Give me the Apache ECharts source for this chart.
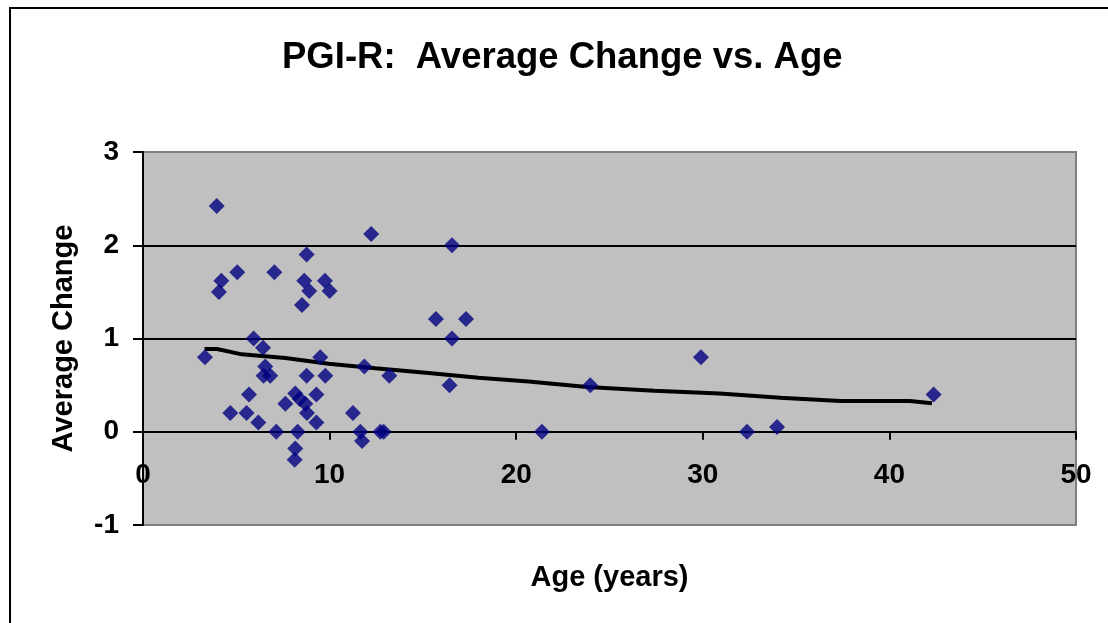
<!DOCTYPE html>
<html>
<head>
<meta charset="utf-8">
<script src="https://cdn.jsdelivr.net/npm/echarts@6/dist/echarts.min.js"></script>
<style>
html,body{margin:0;padding:0;background:#fff;}
#chart{width:1108px;height:623px;}
</style>
</head>
<body>
<div id="chart"></div>
<script>
var ages = [3.32, 3.95, 4.07, 4.2, 4.68, 5.05, 5.55, 5.68, 5.93, 6.18, 6.43, 6.55, 6.46, 6.82, 7.04, 7.14, 7.63, 8.16, 8.4, 8.29, 8.16, 8.13, 8.52, 8.64, 8.77, 8.91, 8.7, 8.79, 8.77, 9.29, 9.29, 9.5, 9.75, 10.0, 9.77, 11.25, 11.65, 11.74, 11.86, 12.23, 12.72, 12.9, 13.2, 15.7, 16.43, 16.56, 16.56, 17.31, 21.38, 23.97, 29.9, 32.37, 33.98, 42.37];
var changes = [0.80, 2.42, 1.50, 1.62, 0.20, 1.71, 0.20, 0.40, 1.00, 0.10, 0.90, 0.70, 0.60, 0.60, 1.71, 0.00, 0.30, 0.41, 0.35, 0.00, -0.18, -0.30, 1.36, 1.62, 1.90, 1.51, 0.30, 0.20, 0.60, 0.40, 0.10, 0.80, 1.62, 1.51, 0.60, 0.20, 0.00, -0.10, 0.70, 2.12, 0.00, 0.00, 0.60, 1.21, 0.50, 1.00, 2.00, 1.21, 0.00, 0.50, 0.80, 0.00, 0.05, 0.40];
var trendAges = [3.3, 3.97, 5.3, 7.63, 9.95, 12.45, 15.3, 17.98, 20.66, 23.8, 27.4, 30.9, 34.15, 37.37, 41.1, 42.28];
var trendValues = [0.887, 0.887, 0.83, 0.79, 0.73, 0.68, 0.63, 0.58, 0.54, 0.48, 0.44, 0.41, 0.365, 0.33, 0.33, 0.305];
var xTicks = [0, 10, 20, 30, 40, 50];
var yTicks = [-1, 0, 1, 2, 3];

var FONT = '"Liberation Sans", Arial, sans-serif';
var scatterData = ages.map(function (a, i) { return [a, changes[i]]; });
var trendData = trendAges.map(function (a, i) { return [a, trendValues[i]]; });

var chart = echarts.init(document.getElementById('chart'), null, {renderer: 'canvas'});
chart.setOption({
  backgroundColor: '#ffffff',
  animation: false,
  title: {
    text: 'PGI-R:  Average Change vs. Age',
    left: 282,
    top: 39,
    padding: 0,
    textStyle: {fontFamily: FONT, fontWeight: 'bold', fontSize: 36.5, color: '#000'}
  },
  graphic: [{
    type: 'rect',
    shape: {x: 10, y: 8, width: 1200, height: 700},
    style: {fill: 'none', stroke: '#000', lineWidth: 2},
    silent: true
  }],
  grid: {
    left: 143, right: 32, top: 152, bottom: 98,
    containLabel: false,
    outerBoundsMode: 'none',
    show: true,
    backgroundColor: '#C0C0C0',
    borderColor: '#808080',
    borderWidth: 2
  },
  xAxis: {
    type: 'value',
    min: xTicks[0], max: xTicks[xTicks.length - 1], interval: 10,
    name: 'Age (years)',
    nameLocation: 'middle',
    nameGap: 38,
    nameTextStyle: {fontFamily: FONT, fontWeight: 'bold', fontSize: 29, color: '#000'},
    axisLine: {onZero: true, lineStyle: {color: '#000', width: 2}},
    axisTick: {show: true, inside: false, length: 8, lineStyle: {color: '#000', width: 2}},
    axisLabel: {margin: -64, fontFamily: FONT, fontWeight: 'bold', fontSize: 28, color: '#000'},
    splitLine: {show: false}
  },
  yAxis: {
    type: 'value',
    min: yTicks[0], max: yTicks[yTicks.length - 1], interval: 1,
    name: 'Average Change',
    nameLocation: 'middle',
    nameGap: 65,
    nameTextStyle: {fontFamily: FONT, fontWeight: 'bold', fontSize: 29, color: '#000'},
    axisLine: {onZero: false, lineStyle: {color: '#000', width: 2}},
    axisTick: {show: true, inside: false, length: 10, lineStyle: {color: '#000', width: 2}},
    axisLabel: {margin: 24, fontFamily: FONT, fontWeight: 'bold', fontSize: 28, color: '#000'},
    splitLine: {show: true, lineStyle: {color: ['#808080', '#000', '#000', '#000', '#808080'], width: 2}}
  },
  series: [{
    type: 'line',
    data: trendData,
    showSymbol: false,
    symbol: 'none',
    smooth: false,
    lineStyle: {color: '#000', width: 4},
    z: 2
  }, {
    type: 'scatter',
    data: scatterData,
    symbol: 'diamond',
    symbolSize: 16,
    itemStyle: {color: '#000080'},
    z: 3
  }]
});
</script>
</body>
</html>
